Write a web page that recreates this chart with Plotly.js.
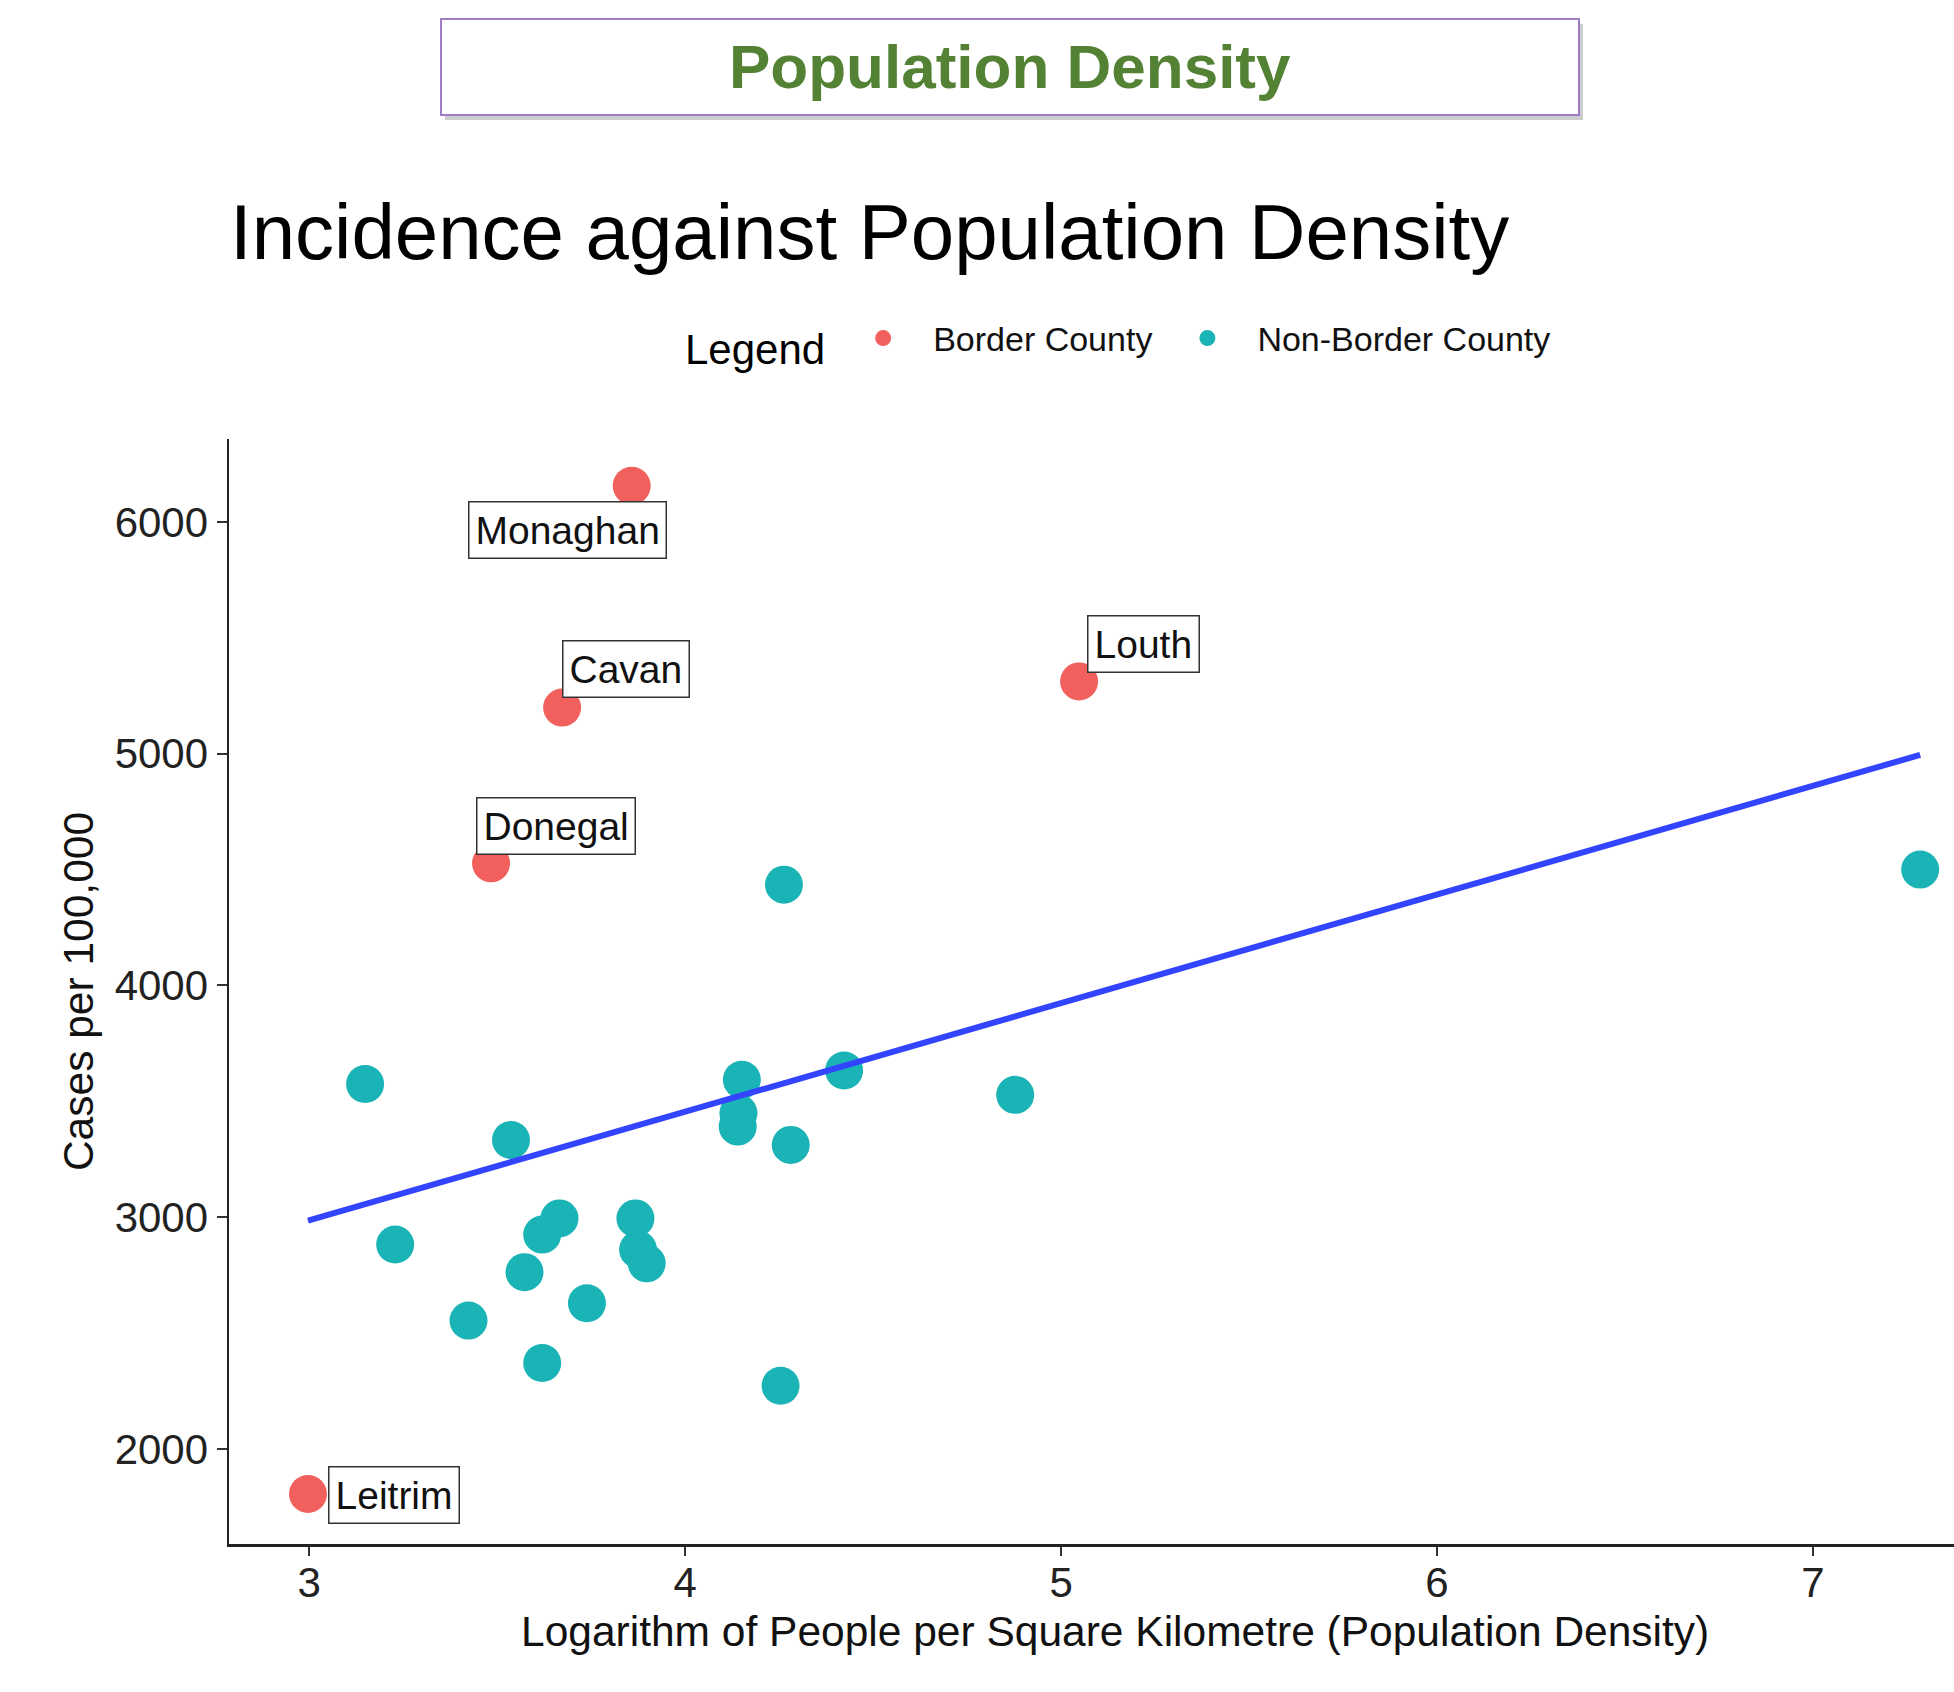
<!DOCTYPE html>
<html>
<head>
<meta charset="utf-8">
<script src="https://cdn.plot.ly/plotly-3.0.1.min.js"></script>
<style>html,body{margin:0;padding:0;background:#fff;overflow:hidden;}</style>
</head>
<body>
<div id="chart" style="width:1954px;height:1692px;"></div>
<script>
// ---- data ----
const borderNames = ['Monaghan', 'Cavan', 'Louth', 'Donegal', 'Leitrim'];
const borderX = [3.858, 3.673, 5.048, 3.484, 2.997];
const borderY = [6156, 5199, 5312, 4527, 1806];

const nonBorderX = [4.263, 7.285, 3.149, 3.537, 4.151, 4.142, 4.140, 4.281, 4.423, 4.878,
                    3.229, 3.666, 3.620, 3.868, 3.875, 3.898, 3.573, 3.739, 3.424, 3.620, 4.254];
const nonBorderY = [4435, 4500, 3575, 3333, 3593, 3449, 3391, 3312, 3633, 3528,
                    2882, 2995, 2925, 2995, 2860, 2801, 2763, 2629, 2554, 2371, 2273];

const fitX = [2.997, 7.285];
const fitY = [2985, 4995];

const xTicks = [3, 4, 5, 6, 7];
const yTicks = [2000, 3000, 4000, 5000, 6000];

const seriesNames = ['Border County', 'Non-Border County'];
const xTitle = 'Logarithm of People per Square Kilometre (Population Density)';
const yTitle = 'Cases per 100,000';

// ---- layout helpers ----
const W = 1954, H = 1692;
const M = {l: 229, r: 0, t: 439, b: 148};
const PW = W - M.l - M.r, PH = H - M.t - M.b;
const px = v => (v - M.l) / PW;          // pixel x -> paper x
const py = v => (H - M.b - v) / PH;      // pixel y -> paper y

const FONT = 'Liberation Sans, Arial, Helvetica, sans-serif';
const RED = '#F1605C', TEAL = '#1AB4B6';

const labelShift = {
  'Monaghan': [-64, -44],
  'Cavan': [64, 39],
  'Louth': [64, 37],
  'Donegal': [65, 37],
  'Leitrim': [86, -1]
};

const traces = [
  {
    type: 'scatter', mode: 'markers', name: seriesNames[0],
    x: borderX, y: borderY, text: borderNames,
    marker: {color: RED, size: 38}
  },
  {
    type: 'scatter', mode: 'markers', name: seriesNames[1],
    x: nonBorderX, y: nonBorderY,
    marker: {color: TEAL, size: 38}
  },
  {
    type: 'scatter', mode: 'lines', showlegend: false,
    x: fitX, y: fitY,
    line: {color: '#3344FF', width: 6}
  }
];

const annotations = borderNames.map((n, i) => ({
  x: borderX[i], y: borderY[i], xref: 'x', yref: 'y',
  text: n, showarrow: false,
  xshift: labelShift[n][0], yshift: labelShift[n][1],
  font: {family: FONT, size: 39, color: '#111'},
  bgcolor: '#ffffff', bordercolor: '#333333', borderwidth: 1.5, borderpad: 6
}));

// banner text
annotations.push({
  xref: 'paper', yref: 'paper', x: px(1010), y: py(66),
  xanchor: 'center', yanchor: 'middle',
  text: '<b>Population Density</b>', showarrow: false,
  font: {family: FONT, size: 62, color: '#548235'}
});

// x-axis title (the reference panel is centred a little right of the visible frame)
annotations.push({
  xref: 'paper', yref: 'paper', x: px(1115), y: py(1631),
  xanchor: 'center', yanchor: 'middle',
  text: xTitle, showarrow: false,
  font: {family: FONT, size: 42.5, color: '#111'}
});

const shapes = [
  {type: 'rect', xref: 'paper', yref: 'paper', layer: 'below',
   x0: px(445), x1: px(1583), y0: py(120), y1: py(24),
   fillcolor: 'rgba(130,130,130,0.4)', line: {width: 0}},
  {type: 'rect', xref: 'paper', yref: 'paper', layer: 'below',
   x0: px(441), x1: px(1579), y0: py(115), y1: py(19),
   fillcolor: '#ffffff', line: {color: '#A07CC6', width: 2}}
];

const layout = {
  width: W, height: H,
  margin: M,
  paper_bgcolor: '#ffffff', plot_bgcolor: '#ffffff',
  font: {family: FONT, color: '#111'},
  title: {
    text: 'Incidence against Population Density',
    font: {family: FONT, size: 78, color: '#000'},
    xref: 'container', yref: 'container',
    x: 230 / W, xanchor: 'left', y: 1 - 232 / H, yanchor: 'middle'
  },
  showlegend: true,
  legend: {
    orientation: 'h',
    xref: 'container', yref: 'container',
    x: 683 / W, xanchor: 'left', y: 1 - 342 / H, yanchor: 'middle',
    title: {text: 'Legend', side: 'left', font: {family: FONT, size: 42, color: '#000'}},
    font: {family: FONT, size: 34, color: '#111'},
    itemwidth: 90,
    bgcolor: 'rgba(0,0,0,0)'
  },
  xaxis: {
    range: [2.787, 7.375],
    tickvals: xTicks, ticktext: xTicks.map(String),
    showgrid: false, zeroline: false,
    showline: true, linecolor: '#222', linewidth: 2.5,
    ticks: 'outside', ticklen: 9, tickwidth: 2, tickcolor: '#333',
    ticklabelstandoff: -9,
    tickfont: {family: FONT, size: 42, color: '#222'}
  },
  yaxis: {
    range: [1590, 6358],
    tickvals: yTicks, ticktext: yTicks.map(String),
    showgrid: false, zeroline: false,
    showline: true, linecolor: '#222', linewidth: 2.5,
    ticks: 'outside', ticklen: 10, tickwidth: 2, tickcolor: '#333',
    tickfont: {family: FONT, size: 42, color: '#222'},
    title: {text: yTitle,
            font: {family: FONT, size: 42.5, color: '#111'}, standoff: 8}
  },
  annotations: annotations,
  shapes: shapes
};

Plotly.newPlot('chart', traces, layout, {displayModeBar: false, staticPlot: true});
</script>
</body>
</html>
